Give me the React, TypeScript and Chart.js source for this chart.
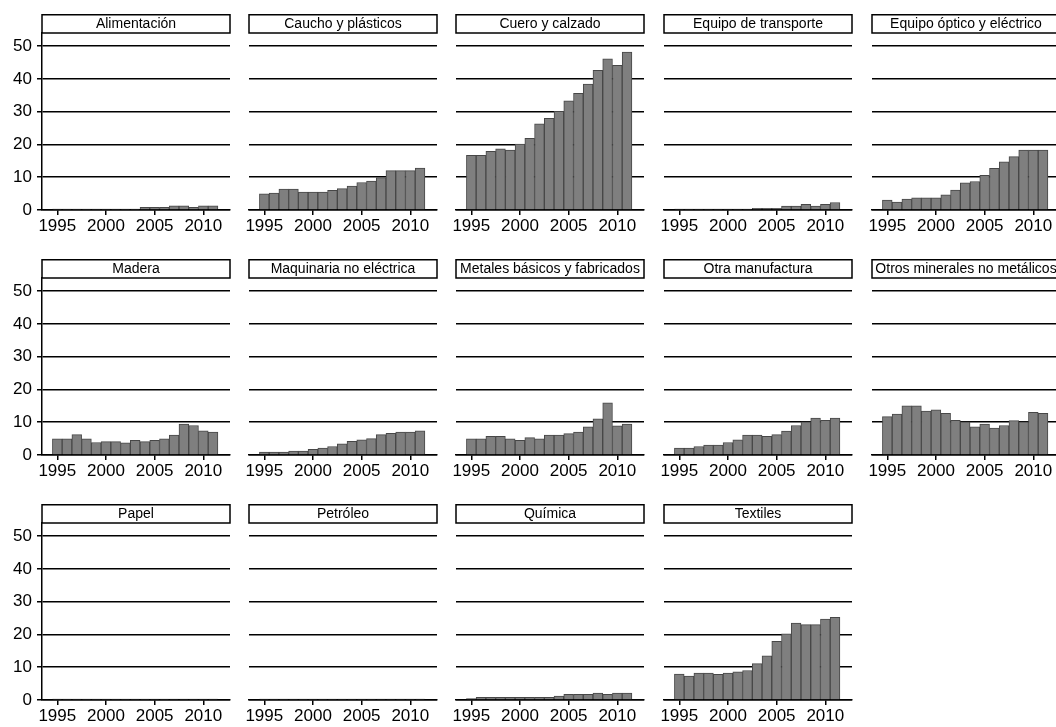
import React, { useEffect, useRef } from "react";
import { Chart, registerables } from "chart.js";

Chart.register(...registerables);

const FONT = "'Liberation Sans', Arial, Helvetica, sans-serif";

// ---- data ----
const years = [1995, 1996, 1997, 1998, 1999, 2000, 2001, 2002, 2003, 2004, 2005, 2006, 2007, 2008, 2009, 2010, 2011];

const alimentacion = [0.3, 0.3, 0.3, 0.3, 0.3, 0.3, 0.3, 0.3, 0.3, 0.8, 0.8, 0.8, 1.3, 1.3, 0.8, 1.3, 1.3];
const cauchoPlasticos = [4.9, 5.2, 6.4, 6.4, 5.5, 5.5, 5.5, 6.0, 6.5, 7.3, 8.4, 8.8, 9.9, 12.0, 12.0, 12.0, 12.8];
const cueroCalzado = [16.7, 16.7, 17.9, 18.7, 18.3, 20.1, 21.9, 26.3, 28.0, 30.1, 33.3, 35.6, 38.4, 42.6, 46.1, 44.1, 48.2];
const equipoTransporte = [0.3, 0.3, 0.3, 0.3, 0.3, 0.3, 0.3, 0.3, 0.5, 0.5, 0.5, 1.2, 1.2, 1.7, 1.2, 1.7, 2.3];
const equipoOptico = [3.0, 2.4, 3.3, 3.7, 3.7, 3.7, 4.6, 6.1, 8.3, 8.7, 10.6, 12.7, 14.7, 16.3, 18.3, 18.3, 18.3];
const madera = [4.9, 4.9, 6.2, 4.9, 3.8, 4.1, 4.1, 3.7, 4.5, 4.1, 4.5, 4.9, 6.1, 9.4, 9.0, 7.4, 7.0];
const maquinaria = [0.9, 0.9, 0.9, 1.2, 1.2, 1.7, 2.1, 2.6, 3.4, 4.2, 4.6, 5.0, 6.2, 6.6, 7.0, 7.0, 7.4];
const metales = [4.9, 4.9, 5.7, 5.7, 4.9, 4.5, 5.3, 4.9, 6.1, 6.1, 6.5, 7.0, 8.6, 11.0, 15.9, 8.9, 9.4];
const otraManufactura = [2.1, 2.1, 2.6, 3.0, 3.0, 3.8, 4.6, 6.1, 6.1, 5.7, 6.2, 7.3, 9.0, 10.1, 11.3, 10.6, 11.3];
const otrosMinerales = [11.7, 12.5, 15.0, 15.0, 13.4, 13.8, 12.7, 10.6, 10.1, 8.6, 9.4, 8.2, 9.0, 10.5, 10.1, 13.0, 12.7];
const papel = [0.3, 0.3, 0.3, 0.3, 0.3, 0.3, 0.3, 0.3, 0.3, 0.3, 0.3, 0.3, 0.3, 0.3, 0.3, 0.3, 0.3];
const petroleo = [0.3, 0.3, 0.3, 0.3, 0.3, 0.3, 0.3, 0.3, 0.3, 0.3, 0.3, 0.3, 0.3, 0.3, 0.3, 0.3, 0.3];
const quimica = [0.4, 0.8, 0.8, 0.8, 0.8, 0.8, 0.8, 0.8, 0.8, 1.2, 1.7, 1.7, 1.7, 2.1, 1.7, 2.1, 2.1];
const textiles = [7.9, 7.3, 8.2, 8.2, 7.8, 8.2, 8.6, 9.0, 11.1, 13.5, 17.9, 20.2, 23.5, 23.0, 23.0, 24.7, 25.2];

const sectorNames = [
  "Alimentación",
  "Caucho y plásticos",
  "Cuero y calzado",
  "Equipo de transporte",
  "Equipo óptico y eléctrico",
  "Madera",
  "Maquinaria no eléctrica",
  "Metales básicos y fabricados",
  "Otra manufactura",
  "Otros minerales no metálicos",
  "Papel",
  "Petróleo",
  "Química",
  "Textiles",
];
const sectorValues = [
  alimentacion, cauchoPlasticos, cueroCalzado, equipoTransporte, equipoOptico,
  madera, maquinaria, metales, otraManufactura, otrosMinerales,
  papel, petroleo, quimica, textiles,
];

const yTicks = [0, 10, 20, 30, 40, 50];
const xTicks = [1995, 2000, 2005, 2010];
const Y_MAX = 54;
const X_MIN = 1993.43;
const X_MAX = 2012.74;

// ---- layout ----
const COL_LEFTS = [0, 207, 414, 622, 830];
const ROW_TOPS = [0, 245, 490];
const CANVAS_W = 240;
const CANVAS_H = 240;

const titleBoxPlugin = {
  id: "titleBox",
  afterDraw(chart: any) {
    const t = chart.titleBlock;
    if (!t) return;
    const ctx = chart.ctx;
    ctx.save();
    ctx.strokeStyle = "#000";
    ctx.lineWidth = 1.5;
    ctx.strokeRect(t.left, t.top + 0.75, t.width, t.height - 0.75);
    ctx.restore();
  },
};

function Panel({ title, values, showY, left, top }: { title: string; values: number[]; showY: boolean; left: number; top: number }) {
  const ref = useRef<HTMLCanvasElement>(null);
  useEffect(() => {
    const chart = new Chart(ref.current as HTMLCanvasElement, {
      type: "bar",
      data: {
        datasets: [
          {
            data: years.map((x, i) => ({ x, y: values[i] })) as any,
            backgroundColor: "#7f7f7f",
            borderColor: "#474747",
            borderWidth: 1,
            barPercentage: 1,
            categoryPercentage: 1,
          },
        ],
      },
      options: {
        animation: false,
        responsive: false,
        maintainAspectRatio: false,
        layout: { padding: { top: 14, right: 10, left: 0, bottom: 0 } },
        plugins: {
          legend: { display: false },
          tooltip: { enabled: false },
          title: {
            display: true,
            text: title,
            fullSize: false,
            color: "#000",
            font: { size: 14, family: FONT, weight: "normal", lineHeight: 1.1 },
            padding: { top: 2, bottom: 1.6 },
          },
        },
        scales: {
          x: {
            type: "linear",
            min: X_MIN,
            max: X_MAX,
            offset: false,
            afterBuildTicks: (s: any) => {
              s.ticks = xTicks.map((v) => ({ value: v }));
            },
            afterFit: (s: any) => {
              s.height = 30;
            },
            ticks: {
              color: "#000",
              font: { size: 17, family: FONT },
              padding: 1,
              maxRotation: 0,
              autoSkip: false,
              callback: (v: any) => String(v),
            },
            grid: {
              display: true,
              offset: false,
              drawOnChartArea: false,
              drawTicks: true,
              tickLength: 5,
              color: "#000",
              lineWidth: 1.5,
            },
            border: { display: true, color: "#000", width: 1.5 },
          },
          y: {
            type: "linear",
            min: 0,
            max: Y_MAX,
            afterBuildTicks: (s: any) => {
              s.ticks = yTicks.map((v) => ({ value: v }));
            },
            afterFit: (s: any) => {
              s.width = 42;
            },
            ticks: {
              display: showY,
              color: "#000",
              font: { size: 17, family: FONT },
              padding: 5,
            },
            grid: {
              color: "#000",
              lineWidth: 1.5,
              drawTicks: showY,
              tickLength: 5,
            },
            border: { display: showY, color: "#000", width: 1.5 },
          },
        },
      } as any,
      plugins: [titleBoxPlugin],
    });
    return () => chart.destroy();
  }, []);
  return (
    <canvas
      ref={ref}
      width={CANVAS_W}
      height={CANVAS_H}
      style={{ position: "absolute", left, top, width: CANVAS_W, height: CANVAS_H }}
    />
  );
}

export default function App() {
  return (
    <div
      style={{
        position: "absolute",
        left: 0,
        top: 0,
        width: 1056,
        height: 727,
        overflow: "hidden",
        background: "#fff",
      }}
    >
      {sectorNames.map((name, i) => (
        <Panel
          key={name}
          title={name}
          values={sectorValues[i]}
          showY={i % 5 === 0}
          left={COL_LEFTS[i % 5]}
          top={ROW_TOPS[Math.floor(i / 5)]}
        />
      ))}
    </div>
  );
}
